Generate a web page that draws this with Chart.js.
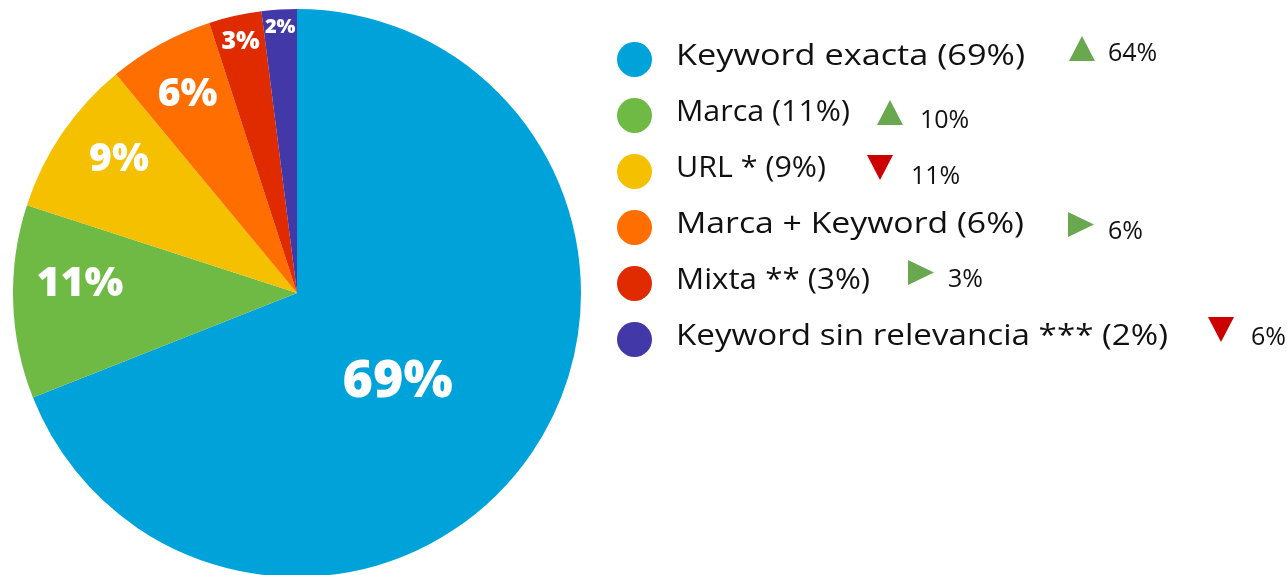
<!DOCTYPE html>
<html>
<head>
<meta charset="utf-8">
<script src="https://cdn.jsdelivr.net/npm/chart.js@4.4.1/dist/chart.umd.min.js"></script>
<style>
  html, body { margin: 0; padding: 0; background: #fff; }
  body { width: 1287px; height: 575px; overflow: hidden; position: relative; font-family: "Open Sans", "Noto Sans", sans-serif; }
  #pieBox { position: absolute; left: 0; top: 0; width: 600px; height: 600px; }
  #legend { position: absolute; left: 0; top: 0; width: 1287px; height: 575px; }
  .dot { position: absolute; width: 35px; height: 35px; border-radius: 50%; }
  .lbl { position: absolute; font-size: 30px; color: #111; white-space: nowrap; line-height: 1; transform-origin: 0 50%; }
  .tri { position: absolute; }
  .chg { position: absolute; font-size: 25px; color: #111; white-space: nowrap; line-height: 1; }
</style>
</head>
<body>
<div id="pieBox"><canvas id="pie"></canvas></div>
<div id="legend"></div>
<script>
// Categories and shares (current period), plus the previous period for the trend markers
const categories = ['Keyword exacta', 'Marca', 'URL *', 'Marca + Keyword', 'Mixta **', 'Keyword sin relevancia ***'];
const shares = [69, 11, 9, 6, 3, 2];
const previous = [64, 10, 11, 6, 3, 6];

const sliceColors = ['#00a3d9', '#6fba45', '#f5c000', '#ff6e00', '#e02a00', '#4338a8'];
const upColor = '#6aa84f';
const downColor = '#cc0000';

// Slice label styling: font size, distance from centre (fraction of radius), angular nudge (deg)
const labelSize = [52, 41, 39, 39, 25, 20];
const labelRadius = [0.47, 0.765, 0.785, 0.80, 0.91, 0.94];
const labelNudge = [6.9, 4.4, 2.8, 0, 0, 0];

// Legend layout: row centres, text widths, trend marker positions
const rowTop = 56, rowStep = 56;
const labelWidth = [349, 174, 150, 348, 194, 492];
const trendX = [1082, 890, 880, 1081, 921, 1221];
const trendDy = [-8, 0, -1, 0, -8, -7];
const trendTextDx = [26, 30, 31, 27, 27, 30];
const trendTextDy = [4, 7, 8, 6, 6, 7];

const sliceLabels = {
  id: 'sliceLabels',
  afterDatasetsDraw(chart) {
    const ctx = chart.ctx;
    const meta = chart.getDatasetMeta(0);
    ctx.save();
    ctx.fillStyle = '#ffffff';
    ctx.textAlign = 'center';
    ctx.textBaseline = 'middle';
    meta.data.forEach((arc, i) => {
      const p = arc.getProps(['x', 'y', 'startAngle', 'endAngle', 'outerRadius'], true);
      const mid = (p.startAngle + p.endAngle) / 2 + labelNudge[i] * Math.PI / 180;
      const r = p.outerRadius * labelRadius[i];
      ctx.font = '800 ' + labelSize[i] + 'px "Open Sans", sans-serif';
      ctx.fillText(shares[i] + '%', p.x + Math.cos(mid) * r, p.y + Math.sin(mid) * r + 1);
    });
    ctx.restore();
  }
};

new Chart(document.getElementById('pie'), {
  type: 'pie',
  data: {
    labels: categories,
    datasets: [{
      data: shares,
      backgroundColor: sliceColors,
      borderWidth: 0
    }]
  },
  options: {
    responsive: true,
    maintainAspectRatio: false,
    animation: false,
    layout: { padding: { left: 13, top: 9, right: 19, bottom: 23 } },
    plugins: { legend: { display: false }, tooltip: { enabled: false } }
  },
  plugins: [sliceLabels]
});

// Legend with trend markers against the previous period
const legend = document.getElementById('legend');
function triangle(dir, color) {
  const pts = dir === 'up' ? '0,25 13,0 26,25' : dir === 'down' ? '0,0 26,0 13,25' : '0,0 26,12.5 0,25';
  return '<svg width="26" height="25" viewBox="0 0 26 25"><polygon points="' + pts + '" fill="' + color + '"/></svg>';
}
categories.forEach((name, i) => {
  const cy = rowTop + rowStep * i;
  const dot = document.createElement('div');
  dot.className = 'dot';
  dot.style.background = sliceColors[i];
  dot.style.left = '617px';
  dot.style.top = (cy + 3 - 17.5) + 'px';
  legend.appendChild(dot);

  const lbl = document.createElement('div');
  lbl.className = 'lbl';
  lbl.textContent = name + ' (' + shares[i] + '%)';
  lbl.style.left = '676px';
  lbl.style.top = (cy - 17) + 'px';
  legend.appendChild(lbl);
  const w = lbl.getBoundingClientRect().width;
  lbl.style.transform = 'scaleX(' + (labelWidth[i] / w) + ')';

  const dir = shares[i] > previous[i] ? 'up' : shares[i] < previous[i] ? 'down' : 'flat';
  const tri = document.createElement('div');
  tri.className = 'tri';
  tri.innerHTML = triangle(dir, dir === 'down' ? downColor : upColor);
  tri.style.left = (trendX[i] - 13) + 'px';
  tri.style.top = (cy + trendDy[i] - 12.5) + 'px';
  legend.appendChild(tri);

  const chg = document.createElement('div');
  chg.className = 'chg';
  chg.textContent = previous[i] + '%';
  chg.style.left = (trendX[i] + trendTextDx[i]) + 'px';
  chg.style.top = (cy + trendDy[i] + trendTextDy[i] - 13) + 'px';
  legend.appendChild(chg);
});
</script>
</body>
</html>
